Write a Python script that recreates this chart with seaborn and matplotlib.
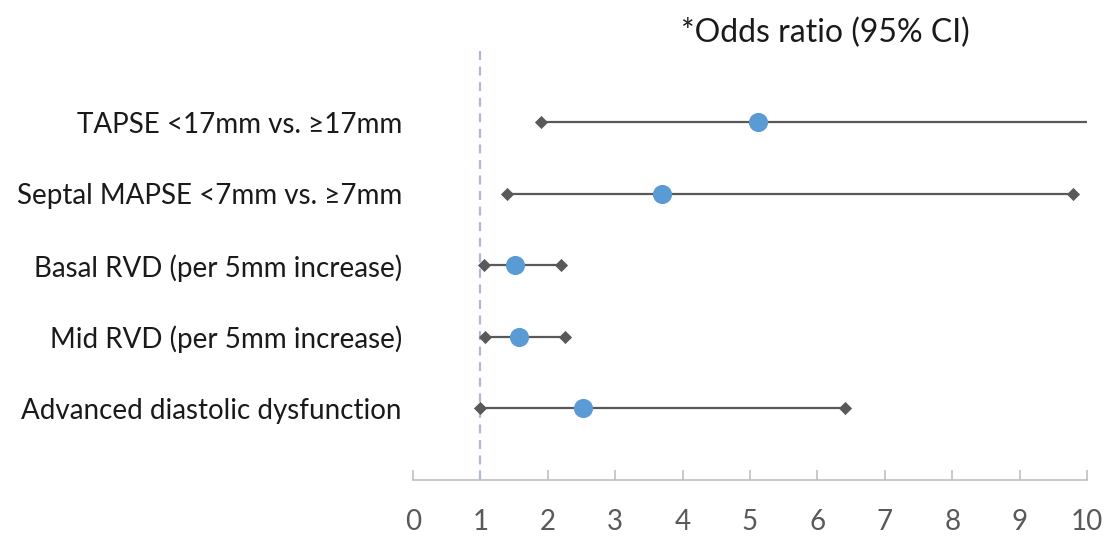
import pandas as pd
import matplotlib
matplotlib.use("Agg")
import matplotlib.pyplot as plt
import seaborn as sns

# dados
fatores = ["TAPSE <17mm vs. ≥17mm",
           "Septal MAPSE <7mm vs. ≥7mm",
           "Basal RVD (per 5mm increase)",
           "Mid RVD (per 5mm increase)",
           "Advanced diastolic dysfunction"]
odds = [5.12, 3.70, 1.51, 1.57, 2.53]
ic_inf = [1.90, 1.39, 1.05, 1.07, 1.0]
ic_sup = [11.5, 9.79, 2.19, 2.25, 6.41]
posicao = [5, 4, 3, 2, 1]
ticks_x = [0, 1, 2, 3, 4, 5, 6, 7, 8, 9, 10]

df = pd.DataFrame({"fator": fatores, "odds": odds, "inf": ic_inf,
                   "sup": ic_sup, "y": posicao})

sns.set_style("white")
plt.rcParams['font.family'] = ['Lato', 'DejaVu Sans']

fig = plt.figure(figsize=(11.07, 5.36), dpi=100)
ax = fig.add_axes([0.373, 0.1045, 0.609, 0.8005])

cinza = "#595959"
ax.hlines(df["y"], df["inf"], df["sup"], color=cinza, linewidth=1.6, zorder=2)
limites = pd.concat([df[["inf", "y"]].rename(columns={"inf": "x"}),
                     df[["sup", "y"]].rename(columns={"sup": "x"})])
limites = limites[limites["x"] <= 10]
sns.scatterplot(data=limites, x="x", y="y", marker="D", s=45, color=cinza,
                edgecolor=cinza, linewidth=0, ax=ax, zorder=3)
sns.scatterplot(data=df, x="odds", y="y", s=190, color="#5B9BD5",
                edgecolor="#5B9BD5", linewidth=0, ax=ax, zorder=4)

ax.axvline(1, color="#a9bcd4", linestyle=(0, (4, 3)), linewidth=1.6, zorder=1)

ax.set_xlim(0, 10)
ax.set_ylim(0, 6)
ax.set_xticks(ticks_x)
ax.set_yticks(df["y"])
ax.set_yticklabels(df["fator"], fontsize=20, color="#1a1a1a")
ax.tick_params(axis="y", length=0, pad=8)
ax.tick_params(axis="x", bottom=True, direction="in", length=7, width=1.2,
               color="#bfbfbf", labelsize=20, labelcolor="#595959", pad=21)
ax.set_xlabel("")
ax.set_ylabel("")
for lado in ["left", "right", "top"]:
    ax.spines[lado].set_visible(False)
ax.spines["bottom"].set_color("#bfbfbf")
ax.spines["bottom"].set_linewidth(1.2)

fig.text(0.746, 0.938, "*Odds ratio (95% CI)", fontsize=23, ha="center",
         va="center", color="#1a1a1a")

fig.savefig("out.png", dpi=100)
